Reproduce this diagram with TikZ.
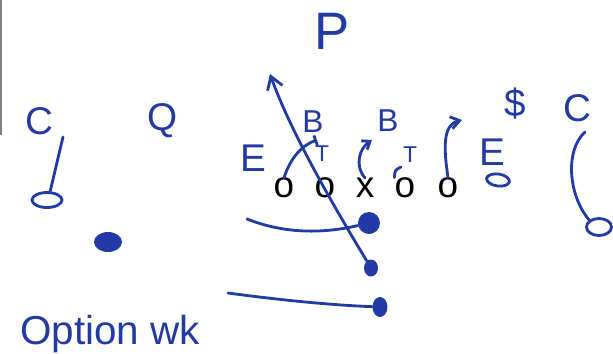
\documentclass[tikz,border=0pt]{standalone}
\usepackage{fontspec}
\setmainfont{Liberation Sans}
\usetikzlibrary{arrows.meta,shapes.geometric}
\definecolor{pen}{RGB}{34,58,165}
\begin{document}
\begin{tikzpicture}[x=0.02cm,y=-0.02cm,
    route/.style={draw=pen,line width=1.6pt,line cap=round},
    hand/.style={text=pen,inner sep=0pt,font=\fontsize{22}{22}\selectfont},
    man/.style={inner sep=0pt,font=\fontsize{21}{21}\selectfont},
    spot/.style={ellipse,fill=pen,inner sep=0pt},
    ring/.style={ellipse,draw=pen,line width=1.6pt,inner sep=0pt}]
        \useasboundingbox (0,0) rectangle (613,353);
        \draw[gray,line width=0.8pt] (1,0) -- (1,135);
        % offensive line
        \node[man] (lt) at (284,188) {o};
        \node[man] (lg) at (325,188) {o};
        \node[man] (ctr) at (365,188) {x};
        \node[man] (rg) at (405,188) {o};
        \node[man] (rt) at (448,188) {o};
        % defence labels
        \node[hand,font=\fontsize{30}{30}\selectfont] (p) at (332,31) {P};
        \node[hand] (lc) at (39,121) {C};
        \node[hand] (q) at (163,121) {Q};
        \node[hand] (le) at (253,158) {E};
        \node[hand,font=\fontsize{18}{18}\selectfont] (bl) at (313,122) {B};
        \node[hand,font=\fontsize{13}{13}\selectfont] (tl) at (322,154) {T};
        \node[hand,font=\fontsize{18}{18}\selectfont] (br) at (388,121) {B};
        \node[hand,font=\fontsize{13}{13}\selectfont] (tr) at (410,155) {T};
        \node[hand] (re) at (492,152) {E};
        \node[hand] (dol) at (515,104) {\$};
        \node[hand] (rc) at (577,108) {C};
        \node[hand,anchor=west,font=\fontsize{23}{23}\selectfont] (play) at (20,334) {Option wk};
        % marks
        \node[ring,minimum width=0.6cm,minimum height=0.3cm] (lcring) at (47,200) {};
        \node[ring,minimum width=0.5cm,minimum height=0.34cm] (rcring) at (599,227) {};
        \node[ring,minimum width=0.46cm,minimum height=0.24cm,rotate=-8] (rering) at (498,180) {};
        \node[spot,minimum width=0.56cm,minimum height=0.4cm] (qdot) at (108,242) {};
        \node[spot,minimum width=0.28cm,minimum height=0.34cm] (fbdot) at (371,268) {};
        \node[spot,minimum width=0.44cm,minimum height=0.44cm] (adot) at (369,223) {};
        \node[spot,minimum width=0.3cm,minimum height=0.4cm] (bdot) at (380,307) {};
        \coordinate (lctop) at (63,137);
        \coordinate (rctop) at (585,132);
        \coordinate (fbtip) at (270,74);
        \coordinate (eblk) at (317,140);
        \coordinate (ctip) at (372,140);
        \coordinate (rtip) at (462,120);
        \coordinate (hook) at (401,167);
        \coordinate (astart) at (247,219);
        \coordinate (bstart) at (228,293);
        % routes
        \draw[route] (lcring.70) -- (lctop);
        \draw[route] (rctop) .. controls (565,150) and (568,195) .. (rcring.north west);
        \draw[route,-{Straight Barb[length=7pt,width=9pt]}] (fbdot) .. controls (330,200) and (290,130) .. (fbtip);
        \draw[route,-{Bar[width=6pt]}] (lt.north) .. controls (290,160) and (300,146) .. (eblk);
        \draw[route,-{Straight Barb[length=4pt,width=6pt]}] (ctr.north) .. controls (354,165) and (360,148) .. (ctip);
        \draw[route] (rg.north west) .. controls (395,170) .. (hook);
        \draw[route,-{Straight Barb[length=5pt,width=7pt]}] (rt.north) .. controls (444,150) and (442,125) .. (rtip);
        \draw[route] (astart) .. controls (290,236) and (330,232) .. (adot);
        \draw[route] (bstart) .. controls (280,300) and (330,305) .. (bdot);
    \end{tikzpicture}
\end{document}
